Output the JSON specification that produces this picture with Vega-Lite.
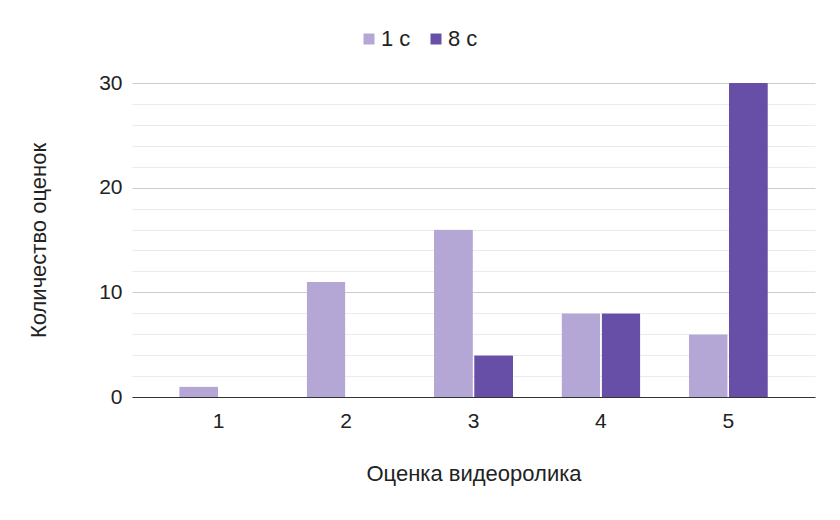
{
  "$schema": "https://vega.github.io/schema/vega-lite/v6.json",
  "width": 683,
  "height": 314,
  "autosize": {"type": "none"},
  "padding": {"left": 132, "top": 83, "right": 25, "bottom": 123},
  "background": "#ffffff",
  "config": {
    "font": "Liberation Sans",
    "view": {"stroke": null}
  },
  "data": {
    "values": [
      {"rating": "1", "series": "1 с", "count": 1},
      {"rating": "1", "series": "8 с", "count": 0},
      {"rating": "2", "series": "1 с", "count": 11},
      {"rating": "2", "series": "8 с", "count": 0},
      {"rating": "3", "series": "1 с", "count": 16},
      {"rating": "3", "series": "8 с", "count": 4},
      {"rating": "4", "series": "1 с", "count": 8},
      {"rating": "4", "series": "8 с", "count": 8},
      {"rating": "5", "series": "1 с", "count": 6},
      {"rating": "5", "series": "8 с", "count": 30}
    ]
  },
  "mark": {"type": "bar", "cornerRadiusTopLeft": 1, "cornerRadiusTopRight": 1},
  "encoding": {
    "x": {
      "field": "rating",
      "type": "nominal",
      "scale": {"paddingInner": 0.38, "paddingOuter": 0.37},
      "axis": {
        "title": "Оценка видеоролика",
        "labelAngle": 0,
        "labelFontSize": 21,
        "labelColor": "#222222",
        "labelPadding": 13,
        "ticks": false,
        "domainColor": "#333333",
        "domainWidth": 1.2,
        "titleFontSize": 22,
        "titleFontWeight": "normal",
        "titleColor": "#222222",
        "titlePadding": 32
      }
    },
    "xOffset": {"field": "series", "type": "nominal", "scale": {"paddingInner": 0.03}},
    "y": {
      "field": "count",
      "type": "quantitative",
      "scale": {"domain": [0, 30], "nice": false},
      "axis": {
        "title": "Количество оценок",
        "values": [0, 2, 4, 6, 8, 10, 12, 14, 16, 18, 20, 22, 24, 26, 28, 30],
        "labelExpr": "datum.value % 10 === 0 ? datum.label : ''",
        "labelFontSize": 21,
        "labelColor": "#222222",
        "labelPadding": 10,
        "ticks": false,
        "domain": false,
        "grid": true,
        "gridColor": {"condition": {"test": "datum.value % 10 === 0", "value": "#cccccc"}, "value": "#ebebeb"},
        "gridWidth": 1,
        "titleFontSize": 22,
        "titleFontWeight": "normal",
        "titleColor": "#222222",
        "titlePadding": 48
      }
    },
    "color": {
      "field": "series",
      "type": "nominal",
      "scale": {"domain": ["1 с", "8 с"], "range": ["#b4a7d6", "#674ea7"]},
      "legend": {
        "title": null,
        "orient": "none",
        "direction": "horizontal",
        "legendX": 226,
        "legendY": -55,
        "symbolType": "square",
        "symbolSize": 121,
        "symbolStrokeWidth": 0,
        "labelFontSize": 22,
        "labelColor": "#222222",
        "columnPadding": 14,
        "labelOffset": 1
      }
    }
  }
}
